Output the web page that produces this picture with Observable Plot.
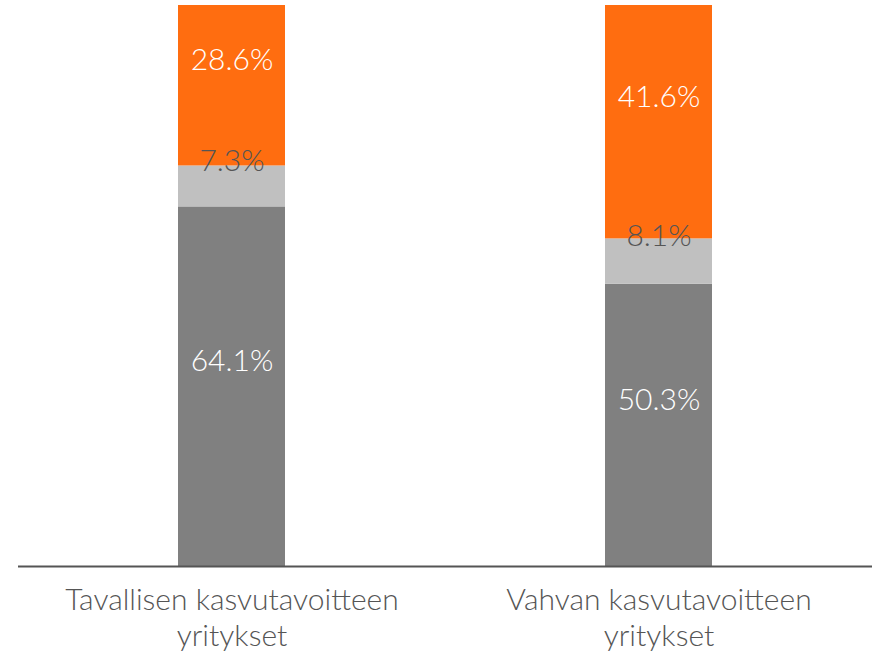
<!DOCTYPE html>
<html>
<head>
<meta charset="utf-8">
<script src="https://cdn.jsdelivr.net/npm/d3@7"></script>
<script src="https://cdn.jsdelivr.net/npm/@observablehq/plot@0.6"></script>
<style>
  html, body { margin: 0; padding: 0; background: #fff; }
  svg { display: block; }
</style>
</head>
<body>
<div id="chart"></div>
<script>
const categories = ["Tavallisen kasvutavoitteen\nyritykset", "Vahvan kasvutavoitteen\nyritykset"];
const segments = ["dark", "light", "orange"];
const segmentColors = ["#808080", "#c0c0c0", "#ff6d10"];
const darkValues = [64.1, 50.3];
const lightValues = [7.3, 8.1];
const orangeValues = [28.6, 41.6];

const seriesValues = {dark: darkValues, light: lightValues, orange: orangeValues};
const data = [];
segments.forEach(s => categories.forEach((c, i) => data.push({category: c, segment: s, value: seriesValues[s][i]})));

const font = "Lato, 'Open Sans', sans-serif";
const fmt = v => `${v.toFixed(1)}%`;

const chart = Plot.plot({
  width: 873,
  height: 654,
  marginTop: 5,
  marginBottom: 88,
  marginLeft: 18,
  marginRight: 1,
  style: {fontFamily: font, background: "#fff"},
  x: {domain: categories, paddingInner: 0.75, paddingOuter: 0.375, axis: null},
  y: {domain: [0, 100], axis: null},
  color: {domain: segments, range: segmentColors},
  marks: [
    Plot.barY(data, {x: "category", y: "value", fill: "segment", order: null}),
    Plot.text(data, Plot.stackY({x: "category", y: "value", order: null,
      text: d => d.segment === "light" ? "" : fmt(d.value),
      fill: "white", fontSize: 30, fontWeight: 300, dy: -25})),
    Plot.text(data, Plot.stackY({x: "category", y: "value", order: null,
      text: d => d.segment === "light" ? fmt(d.value) : "",
      fill: "#555", fontSize: 30, fontWeight: 300, dy: -25})),
    Plot.ruleY([0], {stroke: "#555", strokeWidth: 2}),
    Plot.axisX({tickSize: 0, tickPadding: 19, fontSize: 30, fontWeight: 300, lineHeight: 1.17,
      color: "#555", label: null, tickFormat: d => d})
  ]
});
document.getElementById("chart").appendChild(chart);
</script>
</body>
</html>
